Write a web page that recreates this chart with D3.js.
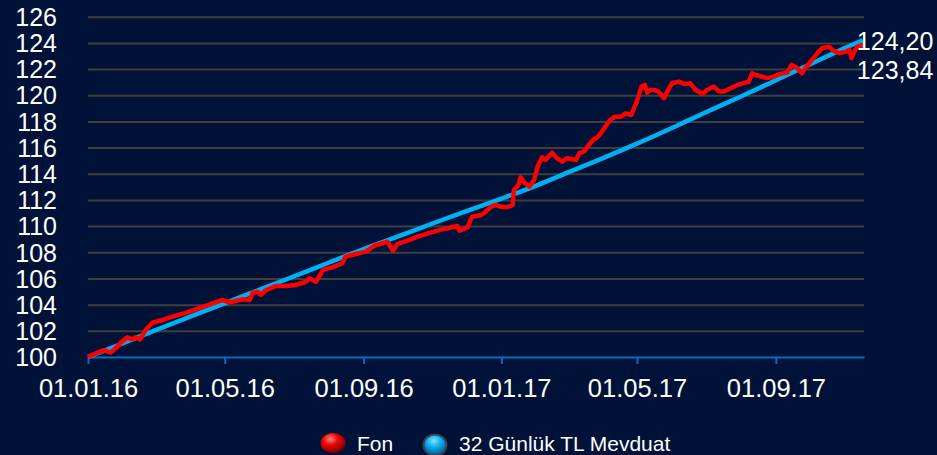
<!DOCTYPE html>
<html>
<head>
<meta charset="utf-8">
<script src="https://cdn.jsdelivr.net/npm/d3@7"></script>
<style>
  body { margin: 0; background: #001237; }
  svg { display: block; font-family: "Liberation Sans", Arial, sans-serif; }
</style>
</head>
<body>
<svg id="mainsvg"></svg>
<script>
// Fon (red)
let fonDates = ["2016-01-01","2016-01-08","2016-01-15","2016-01-21","2016-01-27","2016-01-30","2016-02-05","2016-02-09","2016-02-12","2016-02-16",
  "2016-02-21","2016-02-27","2016-03-07","2016-03-16","2016-03-28","2016-04-08","2016-04-23","2016-04-29","2016-05-03","2016-05-08",
  "2016-05-17","2016-05-23","2016-05-26","2016-05-30","2016-06-02","2016-06-06","2016-06-15","2016-06-24","2016-07-03","2016-07-12",
  "2016-07-15","2016-07-21","2016-07-27","2016-08-04","2016-08-13","2016-08-16","2016-08-25","2016-09-03","2016-09-10","2016-09-22",
  "2016-09-27","2016-10-01","2016-10-10","2016-10-19","2016-10-28","2016-11-08","2016-11-23","2016-11-25","2016-12-02","2016-12-06",
  "2016-12-14","2016-12-18","2016-12-23","2016-12-27","2016-12-31","2017-01-06","2017-01-11","2017-01-12","2017-01-16","2017-01-18",
  "2017-01-22","2017-01-26","2017-01-30","2017-02-02","2017-02-06","2017-02-09","2017-02-15","2017-02-19","2017-02-24","2017-02-28",
  "2017-03-05","2017-03-08","2017-03-11","2017-03-15","2017-03-18","2017-03-23","2017-03-27","2017-03-31","2017-04-06","2017-04-11",
  "2017-04-17","2017-04-21","2017-04-26","2017-05-01","2017-05-05","2017-05-08","2017-05-10","2017-05-13","2017-05-16","2017-05-20",
  "2017-05-25","2017-05-28","2017-06-01","2017-06-07","2017-06-12","2017-06-17","2017-06-22","2017-06-28","2017-07-02","2017-07-08",
  "2017-07-13","2017-07-17","2017-07-23","2017-07-29","2017-08-05","2017-08-08","2017-08-11","2017-08-14","2017-08-18","2017-08-24",
  "2017-08-30","2017-09-05","2017-09-11","2017-09-15","2017-09-20","2017-09-24","2017-09-27","2017-10-03","2017-10-09","2017-10-12",
  "2017-10-18","2017-10-21","2017-10-27","2017-11-02","2017-11-05","2017-11-07","2017-11-09","2017-11-12","2017-11-17"];
let fonValues = [100.0,100.28,100.53,100.33,100.8,101.1,101.5,101.35,101.5,101.35,
  102.06,102.62,102.83,103.08,103.39,103.72,104.18,104.36,104.23,104.23,
  104.41,104.36,104.91,104.99,104.74,105.07,105.43,105.43,105.5,105.75,
  106.01,105.75,106.65,106.85,107.16,107.67,107.87,108.05,108.48,108.81,
  108.12,108.64,108.89,109.2,109.45,109.71,110.01,109.65,109.91,110.72,
  110.85,111.1,111.49,111.62,111.49,111.45,111.62,112.76,113.14,113.73,
  113.27,113.02,113.53,114.54,115.26,115.06,115.61,115.19,114.93,115.19,
  115.11,115.06,115.57,115.69,116.03,116.58,116.79,117.22,117.98,118.36,
  118.36,118.62,118.49,119.55,120.66,120.79,120.2,120.4,120.4,120.28,
  119.77,120.28,120.92,121.04,120.86,120.92,120.4,120.1,120.4,120.66,
  120.28,120.28,120.53,120.79,120.96,121.04,121.68,121.55,121.47,121.3,
  121.42,121.63,121.73,122.32,122.06,121.68,122.06,122.7,123.33,123.59,
  123.71,123.46,123.21,123.33,123.46,122.83,123.26,123.71,123.84];

// 32 Günlük TL Mevduat (blue)
let mevduatDates = ["2016-01-01","2016-02-01","2016-03-01","2016-04-01","2016-05-01","2016-06-01","2016-07-01","2016-08-01",
  "2016-09-01","2016-10-01","2016-11-01","2016-12-01","2017-01-01","2017-02-01","2017-03-01","2017-04-01",
  "2017-05-01","2017-06-01","2017-07-01","2017-08-01","2017-09-01","2017-10-01","2017-11-01","2017-11-17"];
let mevduatValues = [100,101.05,102.05,103.1,104.1,105.15,106.15,107.2,
  108.25,109.2,110.2,111.15,112.1,113.1,114.1,115.2,
  116.3,117.5,118.7,119.9,121.15,122.35,123.6,124.2];

let yTicks = [100,102,104,106,108,110,112,114,116,118,120,122,124,126];
let xTickDates = ["2016-01-01","2016-05-01","2016-09-01","2017-01-01","2017-05-01","2017-09-01"];
let xTickLabels = ["01.01.16","01.05.16","01.09.16","01.01.17","01.05.17","01.09.17"];
let endLabels = ["124,20","123,84"];
let seriesNames = ["Fon","32 Günlük TL Mevduat"];

let svgWidth = 937, svgHeight = 455,
    margin = {top: 16.7, left: 88, right: 73, bottom: 98},
    width = svgWidth - margin.left - margin.right,
    height = svgHeight - margin.top - margin.bottom,
    parse = d3.timeParse("%Y-%m-%d");

let mainsvg = d3.select("#mainsvg").attr("width", svgWidth).attr("height", svgHeight);
mainsvg.append("rect").attr("width", svgWidth).attr("height", svgHeight).attr("fill", "#001237");

let scaleX = d3.scaleTime().domain([parse("2016-01-01"), parse("2017-11-18")]).range([0, width]),
    scaleY = d3.scaleLinear().domain([100, 126]).range([height, 0]);

let mainGroup = mainsvg.append("g").attr("transform", `translate(${margin.left}, ${margin.top})`);

// grid + y labels
let yAxis = mainGroup.append("g")
    .call(d3.axisLeft(scaleY).tickValues(yTicks).tickSize(-width).tickPadding(31).tickFormat(d3.format("d")));
yAxis.select(".domain").remove();
yAxis.selectAll(".tick line").attr("stroke", "#3f3f3f").attr("stroke-width", 2)
    .attr("opacity", d => d === 100 ? 0 : 1);
yAxis.selectAll(".tick text").attr("fill", "#fff").attr("font-size", 25).attr("dy", "0.35em")
    .attr("font-family", "Liberation Sans, Arial, sans-serif");

// x axis
let xAxis = mainGroup.append("g")
    .attr("transform", `translate(0,${height})`)
    .call(d3.axisBottom(scaleX).tickValues(xTickDates.map(parse)).tickSize(7).tickSizeOuter(0)
        .tickPadding(15).tickFormat((d, i) => xTickLabels[i]));
xAxis.select(".domain").attr("stroke", "#0070c0").attr("stroke-width", 2);
xAxis.selectAll(".tick line").attr("stroke", "#0070c0").attr("stroke-width", 2);
xAxis.selectAll(".tick text").attr("fill", "#fff").attr("font-size", 25.5)
    .attr("font-family", "Liberation Sans, Arial, sans-serif");

let line = d3.line().x(d => scaleX(d[0])).y(d => scaleY(d[1]));

let mevduat = mevduatDates.map((d, i) => [parse(d), mevduatValues[i]]);
let fon = fonDates.map((d, i) => [parse(d), fonValues[i]]);

mainGroup.append("path").datum(mevduat).attr("d", line.curve(d3.curveMonotoneX))
    .attr("fill", "none").attr("stroke", "#00b0f0").attr("stroke-width", 4.5);
mainGroup.append("path").datum(fon).attr("d", line.curve(d3.curveLinear))
    .attr("fill", "none").attr("stroke", "#ff0000").attr("stroke-width", 4.5)
    .attr("stroke-linejoin", "round");

// end value labels
let lastX = scaleX(mevduat[mevduat.length - 1][0]);
mainGroup.append("text").attr("x", lastX - 6).attr("y", scaleY(mevduatValues[mevduatValues.length - 1]) + 10)
    .text(endLabels[0]).attr("fill", "#fff").attr("font-size", 25);
mainGroup.append("text").attr("x", lastX - 6).attr("y", scaleY(fonValues[fonValues.length - 1]) + 34)
    .text(endLabels[1]).attr("fill", "#fff").attr("font-size", 25);

// legend
let defs = mainsvg.append("defs");
let gradRed = defs.append("radialGradient").attr("id", "gRed").attr("cx", "40%").attr("cy", "30%").attr("r", "70%");
gradRed.append("stop").attr("offset", "0%").attr("stop-color", "#ff8080");
gradRed.append("stop").attr("offset", "45%").attr("stop-color", "#ee0000");
gradRed.append("stop").attr("offset", "100%").attr("stop-color", "#7a0000");
let gradBlue = defs.append("radialGradient").attr("id", "gBlue").attr("cx", "45%").attr("cy", "30%").attr("r", "70%");
gradBlue.append("stop").attr("offset", "0%").attr("stop-color", "#7fe0ff");
gradBlue.append("stop").attr("offset", "50%").attr("stop-color", "#00a8e8");
gradBlue.append("stop").attr("offset", "100%").attr("stop-color", "#005a8a");

let legend = mainsvg.append("g").attr("class", "legend");
legend.append("ellipse").attr("cx", 333).attr("cy", 443).attr("rx", 12.5).attr("ry", 10).attr("fill", "url(#gRed)");
legend.append("text").attr("x", 357).attr("y", 451).text(seriesNames[0]).attr("fill", "#fff").attr("font-size", 21);
legend.append("ellipse").attr("cx", 435).attr("cy", 445).attr("rx", 11.5).attr("ry", 10.5)
    .attr("fill", "url(#gBlue)").attr("stroke", "#3a4250").attr("stroke-width", 2);
legend.append("text").attr("x", 459).attr("y", 451).text(seriesNames[1]).attr("fill", "#fff").attr("font-size", 21);
</script>
</body>
</html>
